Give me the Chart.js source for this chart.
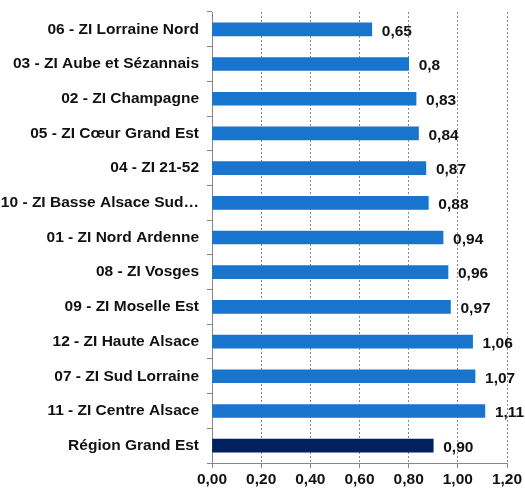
<!DOCTYPE html>
<html>
<head>
<meta charset="utf-8">
<script src="https://cdn.jsdelivr.net/npm/chart.js@4/dist/chart.umd.min.js"></script>
<style>
  body { margin: 0; background: #fff; }
  #wrap { width: 525px; height: 489px; position: relative; }
</style>
</head>
<body>
<div id="wrap"><canvas id="chart"></canvas></div>
<script>
// zones d'emploi, valeurs
const zones = [
  '06 - ZI Lorraine Nord',
  '03 - ZI Aube et Sézannais',
  '02 - ZI Champagne',
  '05 - ZI Cœur Grand Est',
  '04 - ZI 21-52',
  '10 - ZI Basse Alsace Sud…',
  '01 - ZI Nord Ardenne',
  '08 - ZI Vosges',
  '09 - ZI Moselle Est',
  '12 - ZI Haute Alsace',
  '07 - ZI Sud Lorraine',
  '11 - ZI Centre Alsace',
  'Région Grand Est'
];
const values = [0.65, 0.8, 0.83, 0.84, 0.87, 0.88, 0.94, 0.96, 0.97, 1.06, 1.07, 1.11, 0.90];
const valueLabels = ['0,65', '0,8', '0,83', '0,84', '0,87', '0,88', '0,94', '0,96', '0,97', '1,06', '1,07', '1,11', '0,90'];

const FONT = 'Liberation Sans, Arial, sans-serif';
const FSIZE = 15.5;

// etiquettes de valeur a droite des barres
const valueLabelPlugin = {
  id: 'valueLabels',
  afterDatasetsDraw(chart) {
    const ctx = chart.ctx;
    const meta = chart.getDatasetMeta(0);
    ctx.save();
    ctx.font = 'bold ' + FSIZE + 'px ' + FONT;
    ctx.fillStyle = '#111';
    ctx.textAlign = 'left';
    ctx.textBaseline = 'middle';
    meta.data.forEach((bar, i) => {
      ctx.fillText(valueLabels[i], bar.x + 10, bar.y + 2);
    });
    ctx.restore();
  }
};

new Chart(document.getElementById('chart'), {
  type: 'bar',
  data: {
    labels: zones,
    datasets: [{
      data: values,
      backgroundColor: values.map((v, i) => i === values.length - 1 ? '#002060' : '#1874CD'),
      barThickness: 13
    }]
  },
  options: {
    indexAxis: 'y',
    responsive: true,
    maintainAspectRatio: false,
    animation: false,
    layout: { padding: { top: 12, right: 18, bottom: 0, left: 0 } },
    plugins: {
      legend: { display: false },
      tooltip: { enabled: false }
    },
    scales: {
      x: {
        min: 0,
        max: 1.2,
        afterFit(scale) { scale.height = 26; },
        ticks: {
          stepSize: 0.2,
          color: '#111',
          font: { family: FONT, size: FSIZE, weight: 'bold' },
          padding: 2,
          callback: v => v.toFixed(2).replace('.', ',')
        },
        grid: { color: '#888', tickLength: 5, tickColor: '#888' },
        border: { color: '#888', dash: [2, 2] }
      },
      y: {
        afterFit(scale) {
          scale.width = 212;
          scale.paddingTop = 0;
          scale.paddingBottom = 0;
        },
        ticks: {
          color: '#111',
          font: { family: FONT, size: FSIZE, weight: 'bold' },
          padding: 8
        },
        grid: { drawOnChartArea: false, tickLength: 5, color: '#888' },
        border: { color: '#888' }
      }
    }
  },
  plugins: [valueLabelPlugin]
});
</script>
</body>
</html>
